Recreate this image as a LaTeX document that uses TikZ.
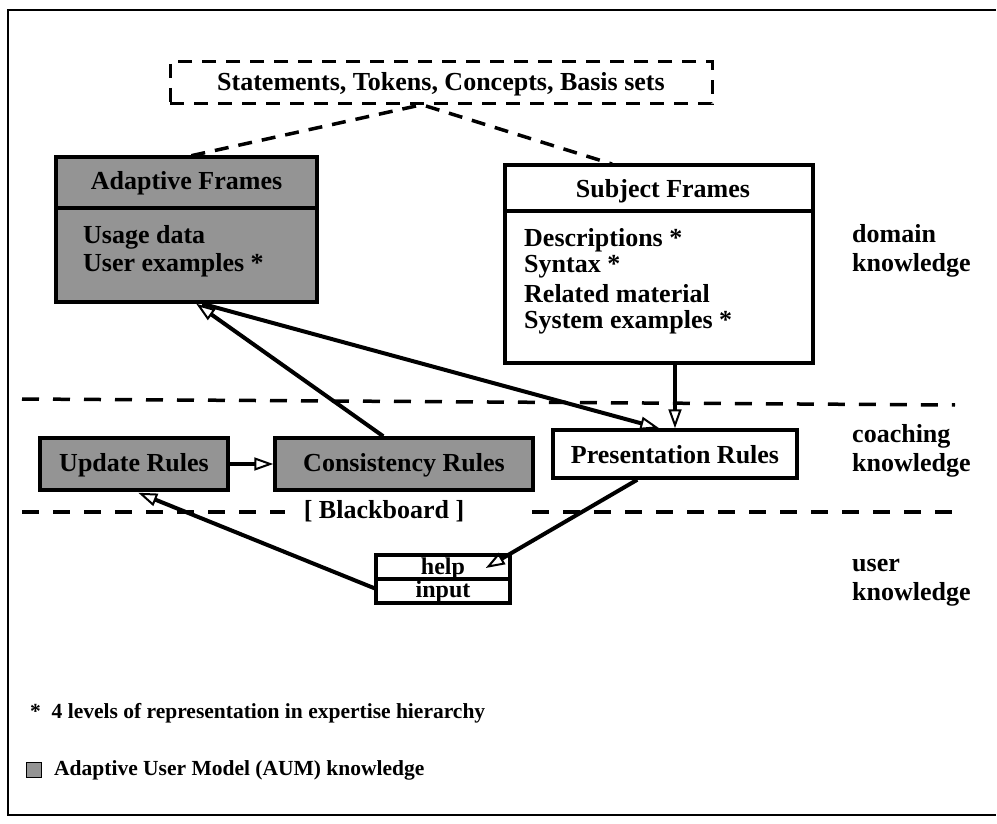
\documentclass[tikz,border=0pt]{standalone}
\usepackage{fontspec}
\setmainfont{Liberation Serif}
\usetikzlibrary{arrows.meta,calc}
\begin{document}
\begin{tikzpicture}[x=1pt,y=-1pt,
  txt/.style={font=\fontsize{26}{29}\selectfont\bfseries, inner sep=0pt},
  tiny/.style={font=\fontsize{24}{26}\selectfont\bfseries, inner sep=0pt, anchor=base},
  small/.style={font=\fontsize{21.5}{24}\selectfont\bfseries, inner sep=0pt},
  frame/.style={draw, line width=3.5pt, inner sep=0pt},
  aum/.style={frame, fill=black!42},
  plain/.style={frame, fill=white},
  sep/.style={line width=3.5pt, dash pattern=on 17pt off 14pt},
  link/.style={line width=4pt, -{Triangle[open, length=19pt, width=13pt, line width=2pt]}},
]
\useasboundingbox (0,0) rectangle (997,824);

% page frame
\draw[line width=2pt] (996,10) -- (8,10) -- (8,815) -- (996,815);

% shared vocabulary
\node[draw, line width=3pt, dash pattern=on 14pt off 10pt, minimum width=542pt, minimum height=42pt, inner sep=0pt] (vocab) at (441,83) {};
\node[txt] (vocabtxt) at (441,84) {Statements, Tokens, Concepts, Basis sets};

% adaptive frames
\node[aum, minimum width=261pt, minimum height=145pt] (af) at (186.5,229.5) {};
\draw[line width=3.5pt] ($(af.north west)+(0,53)$) coordinate (afdl) -- ($(af.north east)+(0,53)$) coordinate (afdr);
\node[txt] (aft) at (186.5,183) {Adaptive Frames};
\node[txt, anchor=west] (af1) at (83,237) {Usage data};
\node[txt, anchor=west] (af2) at (83,265) {User examples *};

% subject frames
\node[plain, minimum width=308pt, minimum height=198pt] (sf) at (659,264) {};
\draw[line width=3.5pt] ($(sf.north west)+(0,48)$) coordinate (sfdl) -- ($(sf.north east)+(0,48)$) coordinate (sfdr);
\node[txt] (sft) at (663,191) {Subject Frames};
\node[txt, anchor=west] (sf1) at (524,240) {Descriptions *};
\node[txt, anchor=west] (sf2) at (524,267) {Syntax *};
\node[txt, anchor=west] (sf3) at (524,294) {Related material};
\node[txt, anchor=west] (sf4) at (524,322) {System examples *};

% links from vocabulary to frames
\coordinate (vl) at (416,106);
\coordinate (vr) at (426,106);
\draw[line width=3.5pt, dash pattern=on 14pt off 10pt] (vl) -- (190,156);
\draw[line width=3.5pt, dash pattern=on 14pt off 10pt] (vr) -- (612,164);

% layer separators
\draw[sep] (22,399) -- (955,405);
\draw[sep] (22,512) -- (285,512);
\draw[sep] (532,512) -- (955,512);
\node[txt] (bb) at (384,511) {[ Blackboard ]};

% layer labels
\node[txt, anchor=west, align=left] (dom) at (852,251) {domain\\knowledge};
\node[txt, anchor=west, align=left] (coach) at (852,451) {coaching\\knowledge};
\node[txt, anchor=west, align=left] (usr) at (852,583) {user\\knowledge};

% rules
\node[aum, minimum width=188pt, minimum height=52pt] (upd) at (134,464) {};
\node[txt] (updt) at (134,465) {Update Rules};
\node[aum, minimum width=258pt, minimum height=52pt] (cons) at (404,464) {};
\node[txt] (const) at (404,465) {Consistency Rules};
\node[plain, minimum width=244pt, minimum height=48pt] (pres) at (675,454) {};
\node[txt] (prest) at (675,455) {Presentation Rules};

% user interface
\node[plain, minimum width=134pt, minimum height=24pt] (help) at (443,567) {};
\node[tiny] (helpt) at (443,574) {help};
\node[plain, minimum width=134pt, minimum height=24pt] (inp) at (443,591) {};
\node[tiny] (inpt) at (443,597.5) {input};

% connectors
\draw[link] (upd.east) -- (cons.west);
\draw[link] ($(cons.north west)+(110,0)$) coordinate (cs) -- ($(af.south west)+(142,0)$) coordinate (ae1);
\draw[link] ($(af.south west)+(148,0)$) coordinate (ae2) -- ($(pres.north west)+(108,0)$) coordinate (pe1);
\draw[link] (sf.south -| pres.north) coordinate (sfb) -- (pres.north);
\draw[link] ($(pres.south west)+(86,0)$) coordinate (ps) -- ($(help.east)+(-26,1)$) coordinate (he);
\draw[link] ($(inp.west)+(2,-2)$) coordinate (is) -- ($(upd.south west)+(100,1)$) coordinate (ue);

% footnote and legend
\node[small, anchor=west] (note) at (30,713) {*\ \ 4 levels of representation in expertise hierarchy};
\node[draw, line width=1.5pt, fill=black!42, minimum size=15pt, inner sep=0pt] (key) at (34,770) {};
\node[small, anchor=west] (keyt) at (54,770) {Adaptive User Model (AUM) knowledge};
\end{tikzpicture}
\end{document}
